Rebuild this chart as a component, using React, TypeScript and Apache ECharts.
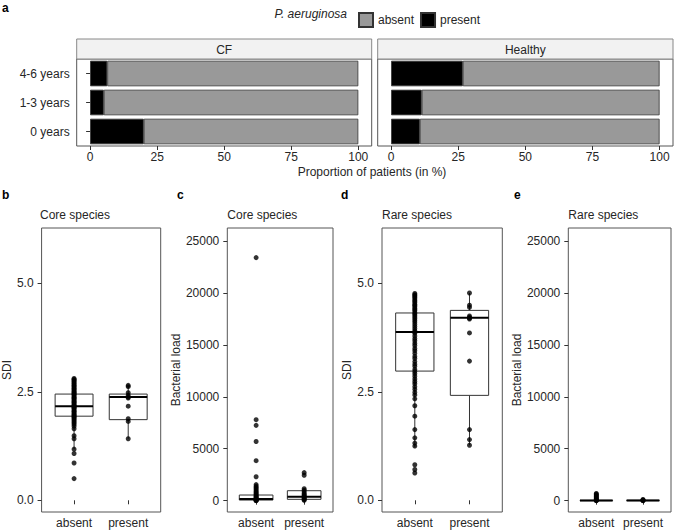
import React, { useEffect, useRef } from "react";
import * as echarts from "echarts";

// ---------- data ----------
const ageGroups = ["0 years", "1-3 years", "4-6 years"];
const cfPresent = [20, 5.1, 6.4];
const cfAbsent = [80, 94.9, 93.6];
const healthyPresent = [10.7, 11.4, 26.7];
const healthyAbsent = [89.3, 88.6, 73.3];
const pctTicks = [0, 25, 50, 75, 100];

const groups = ["absent", "present"];
const sdiTicks = [0, 2.5, 5];
const loadTicks = [0, 5000, 10000, 15000, 20000, 25000];

// box stats per group: [lower whisker, Q1, median, Q3, upper whisker]
const coreSdiBoxAbsent = [1.18, 1.94, 2.17, 2.45, 2.81];
const coreSdiBoxPresent = [1.42, 1.86, 2.38, 2.45, 2.65];
const coreLoadBoxAbsent = [0, 60, 170, 545, 1280];
const coreLoadBoxPresent = [0, 130, 385, 960, 1150];
const rareSdiBoxAbsent = [1.22, 2.98, 3.88, 4.32, 4.77];
const rareSdiBoxPresent = [1.27, 2.42, 4.21, 4.38, 4.78];
const rareLoadBoxAbsent = [0, 0, 8, 35, 90];
const rareLoadBoxPresent = [0, 5, 20, 45, 120];

// individual observations
const coreSdiAbsent = [2.81, 2.79, 2.76, 2.74, 2.71, 2.69, 2.66, 2.64, 2.62, 2.59, 2.57, 2.55, 2.52, 2.5, 2.48, 2.46, 2.44, 2.42, 2.39, 2.37, 2.35, 2.33, 2.3, 2.28, 2.26, 2.24, 2.21, 2.19, 2.17, 2.16, 2.14, 2.12, 2.1, 2.07, 2.05, 2.03, 2.0, 1.98, 1.96, 1.94, 1.92, 1.9, 1.87, 1.84, 1.81, 1.78, 1.75, 1.71, 1.65, 1.49, 1.42, 1.18, 1.08, 0.86, 0.5];
const coreSdiPresent = [2.65, 2.62, 2.48, 2.42, 2.38, 2.36, 2.17, 1.88, 1.82, 1.42];
const coreLoadAbsent = [23400, 7800, 7250, 5700, 3850, 2300, 1550, 1400, 1280, 1150, 1020, 900, 800, 700, 600, 500, 420, 350, 280, 220, 160, 110, 70, 40, 20, 5];
const coreLoadPresent = [2700, 2450, 1150, 1000, 850, 700, 600, 480, 400, 320, 250, 180, 100, 40];
const rareSdiAbsent = [4.77, 4.74, 4.72, 4.69, 4.66, 4.62, 4.59, 4.56, 4.52, 4.5, 4.47, 4.43, 4.4, 4.37, 4.33, 4.3, 4.27, 4.23, 4.19, 4.15, 4.11, 4.06, 4.01, 3.96, 3.91, 3.88, 3.85, 3.79, 3.73, 3.68, 3.62, 3.57, 3.5, 3.45, 3.39, 3.32, 3.27, 3.2, 3.14, 3.09, 3.02, 2.97, 2.92, 2.86, 2.8, 2.74, 2.69, 2.62, 2.56, 2.49, 2.43, 2.34, 2.18, 1.94, 1.63, 1.44, 1.32, 1.25, 0.82, 0.71, 0.63];
const rareSdiPresent = [4.78, 4.5, 4.45, 4.25, 4.22, 4.2, 4.18, 3.86, 3.21, 1.63, 1.4, 1.27];
const rareLoadAbsent = [700, 620, 540, 460, 380, 300, 220, 150, 90, 40, 10, 0];
const rareLoadPresent = [120, 60, 30, 10, 0];

const FONT = "'Liberation Sans', Arial, sans-serif";
const TXT = "#262626";
const BORDER = "#555";

const renderBox = (params: any, api: any) => {
  const x = api.value(0);
  const lo = api.coord([x, api.value(1)]);
  const q1 = api.coord([x, api.value(2)]);
  const md = api.coord([x, api.value(3)]);
  const q3 = api.coord([x, api.value(4)]);
  const hi = api.coord([x, api.value(5)]);
  const half = api.size([0.7, 0])[0] / 2;
  const cx = q1[0];
  return {
    type: "group",
    children: [
      { type: "line", shape: { x1: cx, y1: q3[1], x2: cx, y2: hi[1] }, style: { stroke: "#333", lineWidth: 1 } },
      { type: "line", shape: { x1: cx, y1: q1[1], x2: cx, y2: lo[1] }, style: { stroke: "#333", lineWidth: 1 } },
      { type: "rect", shape: { x: cx - half, y: q3[1], width: half * 2, height: Math.max(q1[1] - q3[1], 0) }, style: { fill: "#fff", stroke: "#333", lineWidth: 1 } },
      { type: "line", shape: { x1: cx - half, y1: md[1], x2: cx + half, y2: md[1] }, style: { stroke: "#000", lineWidth: 2 } },
    ],
  };
};

export default function App() {
  const ref = useRef<HTMLDivElement>(null);
  useEffect(() => {
    if (!ref.current) return;
    const chart = echarts.init(ref.current, undefined, { renderer: "svg" });

    const grids = [
      { left: 76.7, top: 59, width: 295, height: 87 },
      { left: 377.7, top: 59, width: 295.3, height: 87 },
      { left: 40, top: 228, width: 120.7, height: 284 },
      { left: 227.3, top: 228, width: 105.7, height: 284 },
      { left: 382, top: 228, width: 120.3, height: 284 },
      { left: 568.3, top: 228, width: 102.7, height: 284 },
    ].map((g) => ({ ...g, show: true, borderColor: BORDER, borderWidth: 1, backgroundColor: "transparent", containLabel: false }));

    const labelStyle = { fontSize: 12, color: TXT, fontFamily: FONT };
    const tickStyle = { lineStyle: { color: "#333", width: 1 } };

    const pctX = (gi: number) => ({
      gridIndex: gi,
      type: "value",
      min: -5,
      max: 105,
      splitLine: { show: false },
      axisLine: { show: false },
      axisTick: { show: true, length: 4, customValues: pctTicks, ...tickStyle },
      axisLabel: { ...labelStyle, margin: 5, customValues: pctTicks },
    });
    const grpX = (gi: number) => ({
      gridIndex: gi,
      type: "value",
      min: 0.4,
      max: 2.6,
      splitLine: { show: false },
      axisLine: { show: false },
      axisTick: { show: true, length: 4, customValues: [1, 2], ...tickStyle },
      axisLabel: { ...labelStyle, margin: 5, customValues: [1, 2], formatter: (v: number) => groups[Math.round(v) - 1] },
    });
    const sdiY = (gi: number, gap: number) => ({
      gridIndex: gi,
      type: "value",
      min: -0.27,
      max: 6.28,
      name: "SDI",
      nameLocation: "middle",
      nameGap: gap,
      nameTextStyle: { ...labelStyle },
      splitLine: { show: false },
      axisLine: { show: false },
      axisTick: { show: true, length: 4, customValues: sdiTicks, ...tickStyle },
      axisLabel: { ...labelStyle, margin: 8, customValues: sdiTicks, formatter: (v: number) => v.toFixed(1) },
    });
    const loadY = (gi: number, gap: number) => ({
      gridIndex: gi,
      type: "value",
      min: -1090,
      max: 26250,
      name: "Bacterial load",
      nameLocation: "middle",
      nameGap: gap,
      nameTextStyle: { ...labelStyle },
      splitLine: { show: false },
      axisLine: { show: false },
      axisTick: { show: true, length: 4, customValues: loadTicks, ...tickStyle },
      axisLabel: { ...labelStyle, margin: 8, customValues: loadTicks, formatter: (v: number) => String(v) },
    });

    const barSeries = (gi: number, present: number[], absent: number[], stack: string) => [
      {
        type: "bar", name: "present", xAxisIndex: gi, yAxisIndex: gi, stack, data: present, barWidth: "88%",
        itemStyle: { color: "#000000", borderColor: "#333", borderWidth: 0.8 },
      },
      {
        type: "bar", name: "absent", xAxisIndex: gi, yAxisIndex: gi, stack, data: absent, barWidth: "88%",
        itemStyle: { color: "#999999", borderColor: "#333", borderWidth: 0.8 },
      },
    ];

    const boxSeries = (gi: number, a: number[], p: number[]) => ({
      type: "custom", xAxisIndex: gi, yAxisIndex: gi, z: 2,
      renderItem: renderBox,
      encode: { x: 0, y: [1, 2, 3, 4, 5] },
      data: [[1, ...a], [2, ...p]],
    });
    const pointSeries = (gi: number, a: number[], p: number[]) => ({
      type: "scatter", xAxisIndex: gi, yAxisIndex: gi, z: 3, symbolSize: 5,
      itemStyle: { color: "#000" },
      data: [...a.map((v) => [1, v]), ...p.map((v) => [2, v])],
    });

    const text = (t: string, x: number, y: number, extra: any = {}) => ({
      type: "text",
      x, y,
      style: { text: t, fontSize: 12, fill: TXT, fontFamily: FONT, textVerticalAlign: "middle", ...extra },
    });

    chart.setOption({
      animation: false,
      backgroundColor: "#ffffff",
      grid: grids,
      legend: {
        data: ["absent", "present"],
        left: 353,
        top: 7,
        itemWidth: 14,
        itemHeight: 14,
        itemGap: 6,
        icon: "rect",
        selectedMode: false,
        textStyle: { ...labelStyle },
      },
      xAxis: [pctX(0), pctX(1), grpX(2), grpX(3), grpX(4), grpX(5)],
      yAxis: [
        {
          gridIndex: 0, type: "category", data: ageGroups,
          axisLine: { show: false },
          axisTick: { show: true, alignWithLabel: true, length: 4, ...tickStyle },
          axisLabel: { ...labelStyle, margin: 7 },
        },
        {
          gridIndex: 1, type: "category", data: ageGroups,
          axisLine: { show: false }, axisTick: { show: false }, axisLabel: { show: false },
        },
        sdiY(2, 22),
        loadY(3, 40),
        sdiY(4, 26),
        loadY(5, 37),
      ],
      series: [
        ...barSeries(0, cfPresent, cfAbsent, "cf"),
        ...barSeries(1, healthyPresent, healthyAbsent, "healthy"),
        boxSeries(2, coreSdiBoxAbsent, coreSdiBoxPresent),
        pointSeries(2, coreSdiAbsent, coreSdiPresent),
        boxSeries(3, coreLoadBoxAbsent, coreLoadBoxPresent),
        pointSeries(3, coreLoadAbsent, coreLoadPresent),
        boxSeries(4, rareSdiBoxAbsent, rareSdiBoxPresent),
        pointSeries(4, rareSdiAbsent, rareSdiPresent),
        boxSeries(5, rareLoadBoxAbsent, rareLoadBoxPresent),
        pointSeries(5, rareLoadAbsent, rareLoadPresent),
      ],
      graphic: [
        text("a", 2, 8, { fontWeight: "bold", fill: "#000" }),
        text("P. aeruginosa", 347, 14, { fontStyle: "italic", textAlign: "right" }),
        { type: "rect", shape: { x: 76.7, y: 39, width: 295, height: 20 }, style: { fill: "#f2f2f2", stroke: "#888", lineWidth: 1 } },
        text("CF", 224.2, 49.5, { textAlign: "center" }),
        { type: "rect", shape: { x: 377.7, y: 39, width: 295.3, height: 20 }, style: { fill: "#f2f2f2", stroke: "#888", lineWidth: 1 } },
        text("Healthy", 525.3, 49.5, { textAlign: "center" }),
        text("Proportion of patients (in %)", 372, 172, { textAlign: "center" }),
        text("b", 2, 195, { fontWeight: "bold", fill: "#000" }),
        text("c", 177, 195, { fontWeight: "bold", fill: "#000" }),
        text("d", 341, 195, { fontWeight: "bold", fill: "#000" }),
        text("e", 514, 195, { fontWeight: "bold", fill: "#000" }),
        text("Core species", 40, 215),
        text("Core species", 227.3, 215),
        text("Rare species", 382, 215),
        text("Rare species", 568.3, 215),
      ],
    });
    return () => chart.dispose();
  }, []);
  return (
    <div
      ref={ref}
      style={{ position: "absolute", left: 0, top: 0, width: 674, height: 531, background: "#fff" }}
    />
  );
}
